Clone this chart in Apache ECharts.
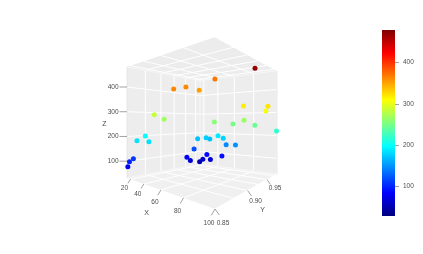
<!DOCTYPE html>
<html><head><meta charset="utf-8"><style>html,body{margin:0;background:#fff}#c{width:423px;height:254px}</style>
<script src="https://cdn.jsdelivr.net/npm/echarts@6/dist/echarts.min.js"></script></head><body><div id="c"></div><script>
// Data
const xValues=[99.5,93.2,71.2,81.1,87.4,50.8,61.4,91.1,99.1,94.7,38.5,75.0,74.9,90.7,100,17.2,25.3,40.1,16.9,16.9,16.9,18.3,27.1,32.4,43.3,49.8,53.3,63.4,18.2,18.0,18.1,19.1,22.8,28.2,33.2,48.2];
const yValues=[.851,.942,.851,.851,.856,.852,.852,.920,.957,.970,.980,.942,.973,.951,.985,.872,.854,.856,.856,.851,.849,.973,.980,.980,.980,.980,.980,.981,.964,.947,.955,.977,.979,.980,.980,.980];
const zValues=[372,470,363,363,352,284,268,318,322,305,258,250,266,245,219,199,185,185,109,99,80,171,177,171,190,178,147,149,120,82,64,50,64,90,66,90];
const xTicks=[20,40,60,80,100];
const yTicks=[0.85,0.90,0.95];
const zTicks=[100,200,300,400];
const yGrid=[0.875,0.90,0.925,0.95,0.975];
const xRange=[14,100],yRange=[0.85,0.987],zRange=[32,481],colorRange=[29,479];
const jet=['#00007f','#0000ff','#007fff','#00ffff','#7fff7f','#ffff00','#ff7f00','#ff0000','#7f0000'];

// Perspective camera: floor quad + horizon
const q=[[127,178],[215,209],[277,174],[200,164]],hz=121.6,w0=.508;
const [p0,p1,p2,p3]=q;
const dx1=p1[0]-p2[0],dx2=p3[0]-p2[0],sx=p0[0]-p1[0]+p2[0]-p3[0],dy1=p1[1]-p2[1],dy2=p3[1]-p2[1],sy=p0[1]-p1[1]+p2[1]-p3[1];
const den=dx1*dy2-dx2*dy1,g=(sx*dy2-dx2*sy)/den,h=(dx1*sy-sx*dy1)/den;
const a=p1[0]-p0[0]+g*p1[0],b=p3[0]-p0[0]+h*p3[0],d=p1[1]-p0[1]+g*p1[1],e=p3[1]-p0[1]+h*p3[1];
const U=x=>(x-xRange[0])/(xRange[1]-xRange[0]),V=y=>(y-yRange[0])/(yRange[1]-yRange[0]),W=z=>(z-zRange[0])/(zRange[1]-zRange[0]);
function uvw(u,v,w){const D=g*u+h*v+1,X=(a*u+b*v+p0[0])/D,Yf=(d*u+e*v+p0[1])/D;return [X,Yf+(hz-Yf)*w/w0];}
const project=(x,y,z)=>uvw(U(x),V(y),W(z));

const polys=[
 {c:'#f0f0f0',p:[[0,0,0],[1,0,0],[1,1,0],[0,1,0]]},
 {c:'#ececec',p:[[0,0,1],[1,0,1],[1,1,1],[0,1,1]]},
 {c:'#ededed',p:[[0,0,0],[0,1,0],[0,1,1],[0,0,1]]},
 {c:'#ededed',p:[[0,1,0],[1,1,0],[1,1,1],[0,1,1]]}
].map(o=>({c:o.c,p:o.p.map(t=>uvw(...t))}));
const segs=[];
const add=(A,B,c,w)=>segs.push({a:A,b:B,c,w});
const G='#ffffff',T='#8c8c8c';
xTicks.forEach(x=>{const u=U(x);
 add(uvw(u,0,0),uvw(u,1,0),G,1);add(uvw(u,0,1),uvw(u,1,1),G,1);add(uvw(u,1,0),uvw(u,1,1),G,1);});
yGrid.forEach(y=>{const v=V(y);
 add(uvw(0,v,0),uvw(1,v,0),G,1);add(uvw(0,v,1),uvw(1,v,1),G,1);add(uvw(0,v,0),uvw(0,v,1),G,1);});
zTicks.forEach(z=>{const w=W(z);
 add(uvw(0,0,w),uvw(0,1,w),G,1);add(uvw(0,1,w),uvw(1,1,w),G,1);});
[[[0,1,0],[0,1,1]],[[0,0,1],[0,1,1]],[[0,1,1],[1,1,1]],[[0,1,0],[1,1,0]],[[0,0,0],[0,1,0]]].forEach(s=>add(uvw(...s[0]),uvw(...s[1]),'#f6f6f6',1));
[[[0,0,0],[0,0,1]],[[1,1,0],[1,1,1]]].forEach(s=>add(uvw(...s[0]),uvw(...s[1]),'#e2e2e2',.8));
const texts=[];
const lab=(s,P,size)=>texts.push({s:String(s),x:P[0],y:P[1],size:size||6.5});
xTicks.forEach(x=>{const u=U(x),P=uvw(u,0,0),k=.8+.45*u;
 add(P,[P[0]-3*k,P[1]+5*k],T,.8);lab(x,[P[0]-6,P[1]+9+5.3*u]);});
yTicks.forEach(y=>{const v=V(y),P=uvw(1,v,0),k=1.2-.3*v;
 add(P,[P[0]+3.6*k,P[1]+5*k],T,.8);lab(y.toFixed(2),[P[0]+8,P[1]+8+6*(1-v)*(1-v)]);});
zTicks.forEach(z=>{const P=uvw(0,0,W(z));add(P,[P[0]-7.5,P[1]],T,.8);
 texts.push({s:String(z),x:P[0]-8.5,y:P[1],size:6.5,align:'right'});});
lab('X',[146.7,213.3],7);lab('Y',[262.7,209.7],7);lab('Z',[104.3,124.3],7);

const points=xValues.map((x,i)=>[...project(x,yValues[i],zValues[i]),zValues[i]]);
const stops=jet.map((c,i)=>({offset:i/(jet.length-1),color:jet[jet.length-1-i]}));
const TC='#4d4d4d',FF='Liberation Sans, Arial, sans-serif';
const chart=echarts.init(document.getElementById('c'),null,{renderer:'canvas'});
chart.setOption({
 animation:false,backgroundColor:'#fff',
 grid:[{left:0,top:0,width:423,height:254},{left:382,top:30,width:13,height:186}],
 xAxis:[{type:'value',min:0,max:423,show:false,gridIndex:0},{type:'category',data:['c'],show:false,gridIndex:1}],
 yAxis:[{type:'value',min:0,max:254,inverse:true,show:false,gridIndex:0},
  {type:'value',gridIndex:1,position:'right',min:colorRange[0],max:colorRange[1],splitLine:{show:false},
   axisLine:{show:false},axisTick:{show:true,length:4,customValues:zTicks,lineStyle:{color:'#8c8c8c',width:.8}},
   axisLabel:{customValues:zTicks,color:TC,fontSize:6.5,fontFamily:FF,margin:8}}],
 visualMap:{show:false,type:'continuous',min:colorRange[0],max:colorRange[1],dimension:2,seriesIndex:3,inRange:{color:jet}},
 series:[
  {type:'custom',xAxisIndex:0,yAxisIndex:0,silent:true,clip:false,z:1,data:polys.map((_,i)=>i),
   renderItem:(pr,api)=>{const o=polys[pr.dataIndex];return {type:'polygon',shape:{points:o.p.map(P=>api.coord(P))},style:{fill:o.c}}}},
  {type:'custom',xAxisIndex:0,yAxisIndex:0,silent:true,clip:false,z:2,data:segs.map((_,i)=>i),
   renderItem:(pr,api)=>{const s=segs[pr.dataIndex],A=api.coord(s.a),B=api.coord(s.b);
    return {type:'line',shape:{x1:A[0],y1:A[1],x2:B[0],y2:B[1]},style:{stroke:s.c,lineWidth:s.w,fill:null}}}},
  {type:'custom',xAxisIndex:0,yAxisIndex:0,silent:true,clip:false,z:3,data:texts.map((_,i)=>i),
   renderItem:(pr,api)=>{const t=texts[pr.dataIndex],A=api.coord([t.x,t.y]);
    return {type:'text',x:A[0],y:A[1],style:{text:t.s,fill:TC,font:t.size+'px '+FF,align:t.align||'center',verticalAlign:'middle'}}}},
  {type:'scatter',xAxisIndex:0,yAxisIndex:0,symbolSize:5,z:5,data:points,silent:true,itemStyle:{opacity:1}},
  {type:'bar',xAxisIndex:1,yAxisIndex:1,data:[colorRange[1]],barWidth:'100%',silent:true,
   itemStyle:{color:{type:'linear',x:0,y:0,x2:0,y2:1,colorStops:stops}}}
 ]
});
</script></body></html>
